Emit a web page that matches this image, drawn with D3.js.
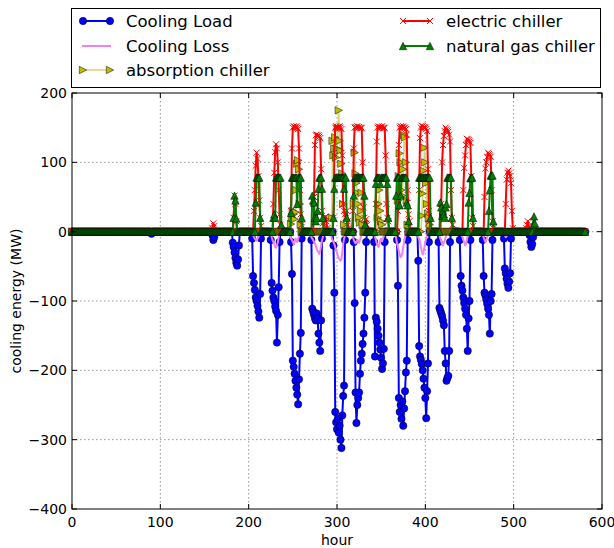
<!DOCTYPE html>
<html lang="en">
<head>
<meta charset="UTF-8">
<title>cooling energy</title>
<script src="https://d3js.org/d3.v7.min.js"></script>
<style>
  body { margin: 0; background: #fff; }
  svg { display: block; font-family: "DejaVu Sans", sans-serif; }
</style>
</head>
<body>
<svg id="chart" width="614" height="548"></svg>
<script>
// hours in the run, ticks
const nHours = 582
const xTicks = [0, 100, 200, 300, 400, 500, 600]
const yTicks = [-400, -300, -200, -100, 0, 100, 200]

// [first hour, hourly values] for every non-zero stretch
const loadBlocks = [
  [90, [-3]],
  [159, [-5, -12, -8]],
  [182, [-16, -22, -30, -38, -45, -49, -40, -20]],
  [204, [-10, -64, -74, -84, -95, -100, -107, -115, -124, -90, -10]],
  [225, [-12, -74, -85, -95, -100, -108, -114, -160, -120, -80, -15]],
  [248, [-15, -61, -186, -195, -205, -215, -225, -235, -249, -213, -176, -146, -10]],
  [271, [-12, -111, -115, -120, -125, -128, -118, -125, -147, -160, -172, -128, -10]],
  [296, [-20, -88, -260, -275, -285, -270, -290, -280, -300, -312, -265, -237, -222, -12]],
  [319, [-15, -103, -232, -276, -250, -240, -232, -205, -186, -176, -162, -147, -124, -88, -15]],
  [342, [-15, -180, -124, -130, -140, -150, -160, -170, -182, -198, -190, -169, -15]],
  [368, [-12, -78, -240, -260, -250, -270, -245, -280, -255, -230, -203, -186, -12]],
  [392, [-42, -165, -180, -185, -191, -200, -212, -225, -240, -269, -230, -190, -15]],
  [415, [-15, -110, -114, -118, -122, -128, -135, -172, -190, -215, -211, -208, -172, -15]],
  [439, [-12, -64, -78, -85, -95, -103, -111, -120, -140, -172, -125, -100, -12]],
  [465, [-12, -64, -88, -92, -98, -104, -111, -120, -147, -100, -90, -12]],
  [489, [-10, -53, -60, -68, -75, -81, -72, -60, -10]],
  [518, [-5, -15, -22, -18, -8]]
]
const lossBlocks = [
  [205, [-5, -8, -10, -12, -13, -10, -8, -5]],
  [226, [-8, -12, -15, -18, -22, -23, -20, -15, -8]],
  [247, [-5, -10, -12, -15, -18, -14, -10, -12, -15, -10, -6]],
  [271, [-8, -10, -12, -15, -17, -20, -25, -28, -30, -32, -28, -20, -12, -8]],
  [294, [-10, -12, -15, -18, -22, -27, -30, -35, -38, -40, -42, -40, -30, -18, -10, -6]],
  [318, [-8, -12, -15, -17, -15, -12, -14, -16, -12, -8]],
  [343, [-8, -12, -17, -20, -22, -18, -12, -10, -14, -10, -6]],
  [367, [-10, -17, -22, -28, -33, -37, -35, -30, -22, -15, -8]],
  [392, [-8, -10, -15, -22, -28, -33, -30, -22, -15, -10, -6]],
  [416, [-6, -10, -14, -18, -20, -16, -12, -8]],
  [441, [-5, -8, -12, -16, -20, -18, -12, -6]],
  [465, [-5, -8, -12, -15, -13, -8, -5]],
  [489, [-3, -5, -8, -6, -3]]
]
const absorptionBlocks = [
  [248, [11, 20, 30, 25, 18, 28, 60, 98, 103, 90, 40, 10]],
  [294, [20, 131, 110, 120, 136, 107, 120, 149, 175, 131, 117, 98, 84, 40, 10]],
  [319, [40, 114, 84, 70, 56, 40, 20, 13, 30, 56, 10]],
  [346, [20, 40, 60, 30, 15, 10]],
  [369, [45, 80, 113, 100, 60, 52, 90, 139, 136, 100, 45, 10]],
  [396, [23, 55, 88, 121, 100, 70, 40, 26, 20, 10]]
]
const electricBlocks = [
  [159, [5, 12, 8]],
  [183, [20, 52, 40, 15]],
  [206, [30, 60, 95, 114, 105, 80, 45, 20, 8]],
  [228, [40, 85, 115, 126, 120, 100, 60, 25, 10]],
  [248, [30, 120, 150, 152, 151, 150, 152, 150, 148, 120, 60, 25, 10]],
  [274, [50, 125, 139, 140, 138, 139, 137, 135, 90, 30, 12, 8, 20, 22, 15, 5]],
  [296, [20, 110, 150, 152, 150, 151, 150, 152, 150, 148, 110, 40, 30, 25, 20, 30, 15, 5]],
  [318, [30, 120, 150, 151, 150, 152, 150, 151, 150, 149, 150, 100, 35, 20, 12, 18, 10]],
  [344, [40, 130, 150, 152, 150, 151, 150, 152, 150, 149, 150, 110, 40, 20, 15]],
  [369, [30, 125, 150, 152, 151, 150, 152, 150, 150, 148, 140, 60, 25, 15]],
  [393, [60, 135, 150, 153, 152, 150, 151, 150, 148, 145, 90, 30, 15]],
  [418, [40, 100, 125, 138, 145, 150, 148, 146, 144, 140, 130, 60, 20, 10]],
  [443, [60, 92, 110, 125, 134, 133, 132, 130, 128, 80, 20, 8]],
  [467, [50, 91, 100, 108, 114, 112, 110, 108, 60, 15, 5]],
  [491, [40, 75, 85, 88, 84, 80, 70, 30, 5]],
  [514, [5, 10, 15, 8]]
]
const gasBlocks = [
  [183, [20, 52, 45, 19]],
  [208, [42, 78, 78, 78, 78, 20]],
  [228, [20, 25, 20, 78, 78, 78, 78, 78, 78, 10]],
  [248, [27, 78, 78, 78, 78, 78, 78, 40, 78, 78, 78, 78, 20]],
  [272, [52, 45, 42, 20, 15, 20, 30, 62, 78, 78, 78, 62, 20]],
  [296, [20, 62, 78, 78, 78, 78, 78, 78, 78, 78, 78, 78, 62, 78, 78, 20]],
  [319, [52, 78, 78, 78, 78, 78, 78, 78, 78, 78, 78, 78, 52, 10]],
  [344, [69, 78, 78, 78, 78, 69, 78, 78, 78, 78, 78, 78, 78, 69, 20]],
  [367, [52, 78, 78, 78, 38, 52, 78, 78, 78, 78, 78, 78, 42, 38, 15]],
  [393, [78, 78, 78, 78, 78, 78, 78, 78, 78, 78, 78, 78, 78, 20]],
  [417, [42, 35, 23, 30, 25, 20, 35, 40, 78, 78, 78, 78, 78, 20]],
  [449, [42, 56, 77, 78, 78, 20]],
  [472, [30, 60, 81, 81, 81, 15]],
  [522, [10, 22, 12]]
]

const seriesNames = ["Cooling Load", "Cooling Loss", "absorption chiller", "electric chiller", "natural gas chiller"]

function expand(blocks) {
  const out = new Array(nHours).fill(0)
  blocks.forEach(([start, vals]) => vals.forEach((v, i) => { out[start + i] = v }))
  return out.map((v, h) => ({ hour: h, value: v }))
}

const m = { left: 72, right: 602, top: 93, bottom: 509 }
const svg = d3.select("#chart")
const x = d3.scaleLinear().domain([0, 600]).range([m.left, m.right])
const y = d3.scaleLinear().domain([-400, 200]).range([m.bottom, m.top])

// marker shapes (matplotlib-ish)
const s = 3.7
const shapes = {
  circle: `M${s},0A${s},${s} 0 1,1 ${-s},0A${s},${s} 0 1,1 ${s},0Z`,
  tri: `M0,${-s}L${s},${s}L${-s},${s}Z`,
  right: `M${s},0L${-s},${-s}L${-s},${s}Z`,
  x: `M-3,-3L3,3M-3,3L3,-3`
}

const series = [
  { name: seriesNames[0], data: expand(loadBlocks), line: "#0000ff", width: 2, marker: "circle", fill: "#0000ff", edge: "#000", ew: 0.5 },
  { name: seriesNames[1], data: expand(lossBlocks), line: "#ee82ee", width: 2, marker: null },
  { name: seriesNames[2], data: expand(absorptionBlocks), line: "#d6d670", width: 1.5, marker: "right", fill: "#bfbf00", edge: "#000", ew: 0.5 },
  { name: seriesNames[3], data: expand(electricBlocks), line: "#ff0000", width: 2, marker: "x", fill: "none", edge: "#ff0000", ew: 1 },
  { name: seriesNames[4], data: expand(gasBlocks), line: "#008000", width: 2, marker: "tri", fill: "#008000", edge: "#000", ew: 0.5 }
]

// grid
const grid = svg.append("g")
grid.selectAll(".gx").data(xTicks.slice(1, -1)).join("line")
  .attr("x1", d => x(d)).attr("x2", d => x(d))
  .attr("y1", m.top).attr("y2", m.bottom)
grid.selectAll(".gy").data(yTicks.slice(1, -1)).join("line")
  .attr("class", "gy")
  .attr("x1", m.left).attr("x2", m.right)
  .attr("y1", d => y(d)).attr("y2", d => y(d))
grid.selectAll("line")
  .attr("stroke", "#999").attr("stroke-width", 1).attr("stroke-dasharray", "1.5,2.5")

// series
const line = d3.line().x(d => x(d.hour)).y(d => y(d.value))
series.forEach(sr => {
  const g = svg.append("g")
  g.append("path").datum(sr.data)
    .attr("d", line).attr("fill", "none")
    .attr("stroke", sr.line).attr("stroke-width", sr.width)
    .attr("stroke-linejoin", "round")
  if (sr.marker) {
    g.selectAll("path.mk").data(sr.data).join("path")
      .attr("class", "mk")
      .attr("transform", d => `translate(${x(d.hour)},${y(d.value)})`)
      .attr("d", shapes[sr.marker])
      .attr("fill", sr.fill).attr("stroke", sr.edge).attr("stroke-width", sr.ew)
  }
})

// frame and ticks
svg.append("rect")
  .attr("x", m.left).attr("y", m.top)
  .attr("width", m.right - m.left).attr("height", m.bottom - m.top)
  .attr("fill", "none").attr("stroke", "#000").attr("stroke-width", 1)

const tk = 5
const ticks = svg.append("g").attr("stroke", "#000").attr("stroke-width", 1)
xTicks.forEach(t => {
  ticks.append("line").attr("x1", x(t)).attr("x2", x(t)).attr("y1", m.bottom).attr("y2", m.bottom - tk)
  ticks.append("line").attr("x1", x(t)).attr("x2", x(t)).attr("y1", m.top).attr("y2", m.top + tk)
})
yTicks.forEach(t => {
  ticks.append("line").attr("x1", m.left).attr("x2", m.left + tk).attr("y1", y(t)).attr("y2", y(t))
  ticks.append("line").attr("x1", m.right).attr("x2", m.right - tk).attr("y1", y(t)).attr("y2", y(t))
})

const fmt = d3.format("d")
svg.append("g").selectAll("text").data(xTicks).join("text")
  .attr("x", d => x(d)).attr("y", m.bottom + 18)
  .attr("text-anchor", "middle").attr("font-size", 14)
  .text(fmt)
svg.append("g").selectAll("text").data(yTicks).join("text")
  .attr("x", m.left - 5).attr("y", d => y(d)).attr("dy", "0.35em")
  .attr("text-anchor", "end").attr("font-size", 14)
  .text(fmt)

svg.append("text").attr("x", (m.left + m.right) / 2).attr("y", 545)
  .attr("text-anchor", "middle").attr("font-size", 14).text("hour")
svg.append("text")
  .attr("transform", `translate(21,${(m.top + m.bottom) / 2}) rotate(-90)`)
  .attr("text-anchor", "middle").attr("font-size", 14).text("cooling energy (MW)")

// legend, two columns
const leg = svg.append("g")
leg.append("rect").attr("x", 71.5).attr("y", 8.5).attr("width", 529).attr("height", 79)
  .attr("fill", "#fff").attr("stroke", "#000").attr("stroke-width", 1)
const legPos = [[80, 21], [80, 46], [80, 70], [400, 21], [400, 46]]
series.forEach((sr, i) => {
  const [lx, ly] = legPos[i]
  const g = leg.append("g")
  g.append("line").attr("x1", lx + 2).attr("x2", lx + 31).attr("y1", ly).attr("y2", ly)
    .attr("stroke", sr.line).attr("stroke-width", sr.width)
  if (sr.marker) {
    [lx + 3, lx + 30].forEach(px => {
      g.append("path").attr("transform", `translate(${px},${ly})`)
        .attr("d", shapes[sr.marker])
        .attr("fill", sr.fill).attr("stroke", sr.edge).attr("stroke-width", sr.ew)
    })
  }
  g.append("text").attr("x", lx + 46).attr("y", ly).attr("dy", "0.35em")
    .attr("font-size", 16.5).text(sr.name)
})
</script>
</body>
</html>
